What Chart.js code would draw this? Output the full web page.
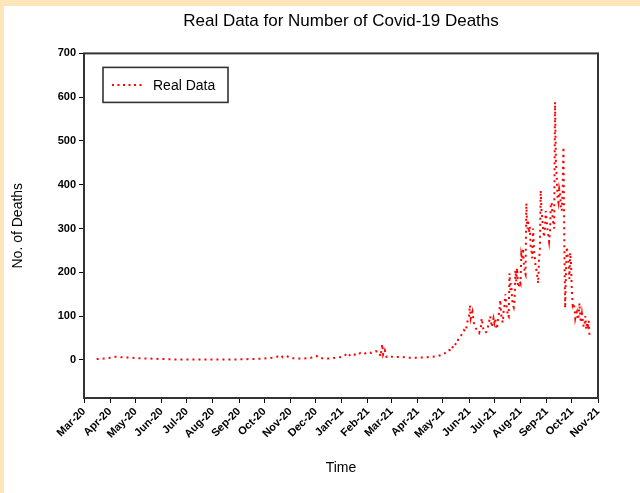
<!DOCTYPE html>
<html><head><meta charset="utf-8">
<script src="https://cdn.jsdelivr.net/npm/chart.js@4.4.0/dist/chart.umd.min.js"></script>
<style>
html,body{margin:0;padding:0;background:#FFE5B9;width:640px;height:493px;overflow:hidden}
#wrap{position:absolute;left:4px;top:6px;width:636px;height:487px;background:#fff}
canvas{display:block}
</style></head><body>
<div id="wrap"><canvas id="c" width="636" height="487"></canvas></div>
<script>
// Sparse readings, Mar 2020 - Jun 2021
const dates = [
'2020-03-16','2020-03-24','2020-04-02','2020-04-08','2020-04-16','2020-04-25','2020-05-05','2020-05-18',
'2020-06-01','2020-06-20','2020-07-10','2020-08-01','2020-08-25','2020-09-15','2020-10-01','2020-10-10',
'2020-10-16','2020-10-20','2020-10-23','2020-10-27','2020-11-02','2020-11-12','2020-11-24','2020-12-02',
'2020-12-05','2020-12-15','2020-12-26','2021-01-02','2021-01-05','2021-01-08','2021-01-11','2021-01-15',
'2021-01-19','2021-01-23','2021-01-27','2021-02-01','2021-02-05','2021-02-10','2021-02-14','2021-02-16',
'2021-02-18','2021-02-19','2021-02-21','2021-02-23','2021-02-26','2021-03-03','2021-03-12','2021-03-22',
'2021-04-02','2021-04-12','2021-04-22','2021-05-01','2021-05-05','2021-05-08','2021-05-11','2021-05-14',
'2021-05-17','2021-05-20','2021-05-23','2021-05-26','2021-05-28','2021-05-30','2021-06-01','2021-06-02',
'2021-06-03','2021-06-05','2021-06-07','2021-06-09','2021-06-11','2021-06-13','2021-06-15','2021-06-16',
'2021-06-18','2021-06-20','2021-06-22','2021-06-24','2021-06-26','2021-06-28','2021-06-30'];
const deaths = [
2,3,5,7,6,5,4,3,
2,1,1,1,1,2,3,5,
7,11,6,9,4,3,4,9,
4,3,5,7,11,16,9,13,
10,16,13,18,16,20,19,8,
36,12,22,7,10,6,7,5,
5,6,8,12,18,23,20,38,
35,52,57,68,65,87,100,125,
95,110,80,72,68,62,75,95,
70,62,65,80,100,75,95];
// Daily readings from 1 Jul 2021 to 22 Oct 2021
const dailyStart = '2021-07-01';
const dailyDeaths = [
85,95,78,70,88,102,110,137,105,92,85,112,125,150,130,118,100,98,198,160,175,140,125,120,135,205,180,210,170,165,180,
175,240,230,255,220,200,195,358,300,320,290,305,260,250,232,300,250,235,210,205,190,175,230,250,387,340,320,295,280,300,340,
320,300,285,270,290,355,360,330,310,300,589,456,420,370,360,390,380,350,340,385,486,270,118,200,258,240,230,185,245,220,
153,125,130,120,95,105,110,92,100,130,95,85,105,90,75,80,100,70,85,78,90,52];
const monthStarts = ['2020-03-01','2020-04-01','2020-05-01','2020-06-01','2020-07-01','2020-08-01','2020-09-01',
'2020-10-01','2020-11-01','2020-12-01','2021-01-01','2021-02-01','2021-03-01','2021-04-01','2021-05-01',
'2021-06-01','2021-07-01','2021-08-01','2021-09-01','2021-10-01','2021-11-01'];
const monthLabels = ['Mar-20','Apr-20','May-20','Jun-20','Jul-20','Aug-20','Sep-20','Oct-20','Nov-20','Dec-20',
'Jan-21','Feb-21','Mar-21','Apr-21','May-21','Jun-21','Jul-21','Aug-21','Sep-21','Oct-21','Nov-21'];
const yTicks = [0,100,200,300,400,500,600,700];

const origin = Date.UTC(2020,2,1);
function dayIndex(s){const p=s.split('-').map(Number);return Math.round((Date.UTC(p[0],p[1]-1,p[2])-origin)/86400000);}
const points = dates.map((d,i)=>({x:dayIndex(d),y:deaths[i]}));
const d0 = dayIndex(dailyStart);
dailyDeaths.forEach((v,i)=>points.push({x:d0+i,y:v}));
const FONT='"Liberation Sans", Arial, sans-serif';

const framePlugin = {
  id:'frame',
  afterDraw(chart){
    const {ctx, chartArea:a} = chart;
    ctx.save();
    ctx.strokeStyle='#333'; ctx.lineWidth=2;
    ctx.strokeRect(a.left, a.top, a.right-a.left, a.bottom-a.top);
    ctx.restore();
  }
};
const boxLegend = {
  id:'boxLegend',
  afterDraw(chart){
    const {ctx, chartArea:a} = chart;
    const x=a.left+19, y=a.top+14, w=125, h=35;
    ctx.save();
    ctx.fillStyle='#fff'; ctx.fillRect(x,y,w,h);
    ctx.strokeStyle='#333'; ctx.lineWidth=1.6; ctx.strokeRect(x,y,w,h);
    ctx.strokeStyle='#ff0000'; ctx.lineWidth=2; ctx.setLineDash([2,3.5]);
    ctx.beginPath(); ctx.moveTo(x+9,y+h/2); ctx.lineTo(x+42,y+h/2); ctx.stroke();
    ctx.setLineDash([]);
    ctx.fillStyle='#000'; ctx.font='14px '+FONT; ctx.textBaseline='middle'; ctx.textAlign='left';
    ctx.fillText(chart.data.datasets[0].label, x+50, y+h/2+1);
    ctx.restore();
  }
};

new Chart(document.getElementById('c'), {
  type:'line',
  data:{datasets:[{label:'Real Data', data:points, borderColor:'#ff0000', borderWidth:2,
    borderDash:[2,4], borderCapStyle:'butt', pointRadius:0, tension:0, fill:false}]},
  options:{
    responsive:false, animation:false, devicePixelRatio:1,
    layout:{padding:{left:0,right:42,top:0,bottom:0}},
    plugins:{
      legend:{display:false}, tooltip:{enabled:false},
      title:{display:true, text:'Real Data for Number of Covid-19 Deaths', fullSize:false,
        color:'#000', font:{family:FONT, size:17, weight:'normal'}, padding:{top:5,bottom:22}}
    },
    scales:{
      x:{type:'linear', min:0, max:dayIndex('2021-11-01'),
        afterBuildTicks(s){s.ticks = monthStarts.map(m=>({value:dayIndex(m)}));},
        afterFit(s){s.height=95;},
        ticks:{autoSkip:false, maxRotation:45, minRotation:45, color:'#000', padding:2,
          font:{family:FONT, size:11, weight:'bold'},
          callback:(v,i)=>monthLabels[i]},
        grid:{display:true, drawOnChartArea:false, drawTicks:true, tickLength:5, color:'#000', lineWidth:1},
        border:{display:false},
        title:{display:true, text:'Time', color:'#000', font:{family:FONT, size:14}, padding:{top:0,bottom:16}}
      },
      y:{type:'linear', min:-87, max:700,
        afterBuildTicks(s){s.ticks = yTicks.map(v=>({value:v}));},
        afterFit(s){s.width=80;},
        ticks:{color:'#000', padding:3, font:{family:FONT, size:11, weight:'bold'}, callback:v=>String(v)},
        grid:{display:true, drawOnChartArea:false, drawTicks:true, tickLength:5, color:'#000', lineWidth:1},
        border:{display:false},
        title:{display:true, text:'No. of Deaths', color:'#000', font:{family:FONT, size:14}, padding:{top:6,bottom:0}}
      }
    }
  },
  plugins:[framePlugin, boxLegend]
});
</script>
</body></html>
